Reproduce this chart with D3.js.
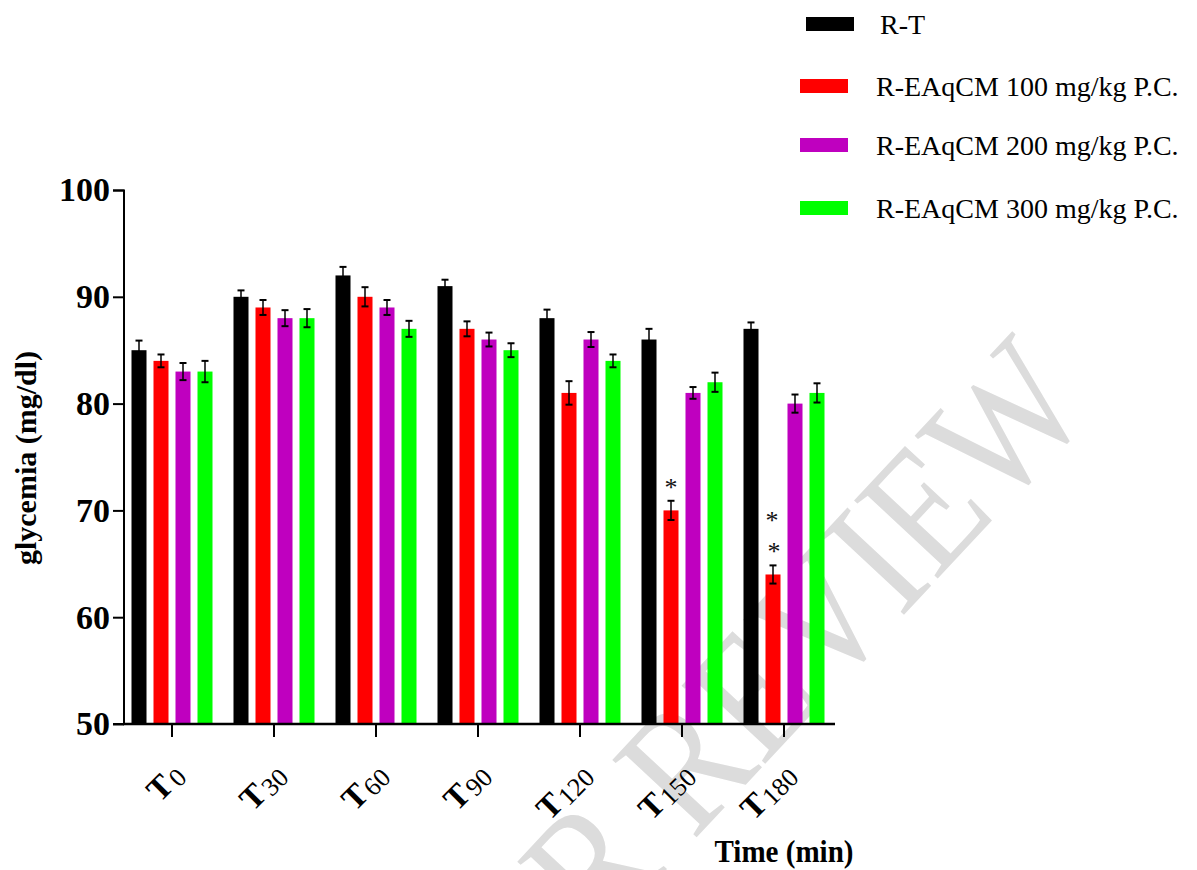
<!DOCTYPE html>
<html>
<head>
<meta charset="utf-8">
<script src="https://cdn.jsdelivr.net/npm/d3@7"></script>
<style>
  html, body { margin: 0; padding: 0; background: #fff; }
  svg { display: block; }
</style>
</head>
<body>
<svg id="chart" width="1197" height="870"></svg>
<script>
// ---- data ----
const categories = ["T0", "T30", "T60", "T90", "T120", "T150", "T180"];
const tickSub = ["0", "30", "60", "90", "120", "150", "180"];
const seriesNames = ["R-T", "R-EAqCM 100 mg/kg P.C.", "R-EAqCM 200 mg/kg P.C.", "R-EAqCM 300 mg/kg P.C."];
const seriesColors = ["#000000", "#ff0000", "#bf00bf", "#00ff00"];

const rtValues   = [85, 90, 92, 91, 88, 86, 87];
const e100Values = [84, 89, 90, 87, 81, 70, 64];
const e200Values = [83, 88, 89, 86, 86, 81, 80];
const e300Values = [83, 88, 87, 85, 84, 82, 81];

const rtErr   = [0.9, 0.6, 0.8, 0.6, 0.8, 1.0, 0.6];
const e100Err = [0.6, 0.7, 0.9, 0.7, 1.1, 0.9, 0.85];
const e200Err = [0.8, 0.75, 0.7, 0.65, 0.7, 0.55, 0.85];
const e300Err = [1.0, 0.85, 0.75, 0.65, 0.6, 0.9, 0.9];

const yTicks = [50, 60, 70, 80, 90, 100];

// significance marks: category, series index, number of asterisks
const sigCategories = ["T150", "T180"];
const sigSeries = [1, 1];
const sigCounts = [1, 2];

const yTitle = "glycemia (mg/dl)";
const xTitle = "Time (min)";
const watermark = "UNDER PEER REVIEW";

// ---- build ----
const allValues = [rtValues, e100Values, e200Values, e300Values];
const allErr = [rtErr, e100Err, e200Err, e300Err];

const svg = d3.select("#chart");
const serif = "'Liberation Serif', 'Times New Roman', Times, serif";

const y = d3.scaleLinear().domain([50, 100]).range([724, 190]);
const x0 = d3.scaleBand().domain(categories).range([121, 835]).padding(0);
const x1 = d3.scaleBand().domain(d3.range(seriesNames.length)).range([-44, 44])
  .paddingInner(0.318).paddingOuter(0.159);

// watermark (behind everything)
svg.append("text")
  .attr("transform", "translate(1096,409) rotate(-47) scale(1,1.15)")
  .attr("text-anchor", "end")
  .attr("font-family", serif)
  .attr("font-size", 152)
  .attr("fill", "#dcdcdc")
  .text(watermark);

// bars
const rows = [];
categories.forEach((c, i) => {
  allValues.forEach((vals, s) => {
    rows.push({ cat: c, s: s, v: vals[i], e: allErr[s][i] });
  });
});

const g = svg.append("g");
g.selectAll("rect.bar").data(rows).join("rect")
  .attr("class", "bar")
  .attr("x", d => x0(d.cat) + x0.bandwidth() / 2 + x1(d.s))
  .attr("width", x1.bandwidth())
  .attr("y", d => y(d.v))
  .attr("height", d => y(50) - y(d.v))
  .attr("fill", d => seriesColors[d.s]);

// error bars
const cx = d => x0(d.cat) + x0.bandwidth() / 2 + x1(d.s) + x1.bandwidth() / 2;
const eb = g.selectAll("g.err").data(rows).join("g").attr("class", "err")
  .attr("stroke", "#000").attr("fill", "none");
eb.append("line").attr("x1", cx).attr("x2", cx)
  .attr("y1", d => y(d.v + d.e)).attr("y2", d => y(d.v - d.e)).attr("stroke-width", 1.5);
eb.append("line").attr("x1", d => cx(d) - 3.5).attr("x2", d => cx(d) + 3.5)
  .attr("y1", d => y(d.v + d.e)).attr("y2", d => y(d.v + d.e)).attr("stroke-width", 2);
eb.append("line").attr("x1", d => cx(d) - 3.5).attr("x2", d => cx(d) + 3.5)
  .attr("y1", d => y(d.v - d.e)).attr("y2", d => y(d.v - d.e)).attr("stroke-width", 2);

// significance asterisks
sigCategories.forEach((c, k) => {
  const i = categories.indexOf(c);
  const s = sigSeries[k];
  const d = { cat: c, s: s, v: allValues[s][i], e: allErr[s][i] };
  for (let n = 0; n < sigCounts[k]; n++) {
    svg.append("text")
      .attr("x", cx(d) + (sigCounts[k] > 1 && n === 0 ? 1 : 0) - (n > 0 ? 1 : 0))
      .attr("y", y(d.v + d.e) - 5 - n * 31)
      .attr("text-anchor", "middle")
      .attr("font-family", serif)
      .attr("font-size", 26)
      .attr("fill", "#111")
      .text("*");
  }
});

// y axis
const yAxis = d3.axisLeft(y).tickValues(yTicks).tickSize(11).tickPadding(3).tickFormat(d3.format("d"));
const ya = svg.append("g").attr("transform", "translate(124,0)").call(yAxis);
ya.select(".domain").attr("stroke-width", 2).attr("d", "M-11,190.5H0V724H-11");
ya.selectAll(".tick line").attr("stroke-width", 2);
ya.selectAll(".tick text")
  .attr("font-family", serif).attr("font-weight", "bold").attr("font-size", 34).attr("fill", "#000");

// x axis
const xAxis = d3.axisBottom(x0).tickSize(13).tickFormat("");
const xa = svg.append("g").attr("transform", "translate(0,724)").call(xAxis);
xa.select(".domain").attr("stroke-width", 2.5).attr("d", "M123,0H835");
xa.selectAll(".tick line").attr("stroke-width", 2);

// x tick labels
categories.forEach((c, i) => {
  const px = x0(c) + x0.bandwidth() / 2;
  const t = svg.append("text")
    .attr("transform", `translate(${px + 14},777) rotate(-45)`)
    .attr("text-anchor", "end")
    .attr("font-family", serif)
    .attr("fill", "#000");
  t.append("tspan").attr("font-weight", "bold").attr("font-size", 33).text("T");
  t.append("tspan").attr("font-size", 26).attr("dx", 2).attr("dy", 3).text(tickSub[i]);
});

// axis titles
svg.append("text")
  .attr("transform", "translate(36,458) rotate(-90)")
  .attr("text-anchor", "middle")
  .attr("font-family", serif).attr("font-weight", "bold").attr("font-size", 30)
  .text(yTitle);

svg.append("text")
  .attr("x", 784).attr("y", 862)
  .attr("text-anchor", "middle")
  .attr("font-family", serif).attr("font-weight", "bold").attr("font-size", 31)
  .attr("textLength", 139).attr("lengthAdjust", "spacingAndGlyphs")
  .text(xTitle);

// legend
const lg = svg.append("g");
const legY = [24, 86, 145, 208];
seriesNames.forEach((n, i) => {
  lg.append("rect").attr("x", i === 0 ? 806 : 800).attr("y", legY[i] - 7)
    .attr("width", 48).attr("height", 14).attr("fill", seriesColors[i]);
  lg.append("text").attr("x", i === 0 ? 880 : 876).attr("y", legY[i] + 10)
    .attr("font-family", serif).attr("font-size", 28).attr("fill", "#000").text(n);
});
</script>
</body>
</html>
